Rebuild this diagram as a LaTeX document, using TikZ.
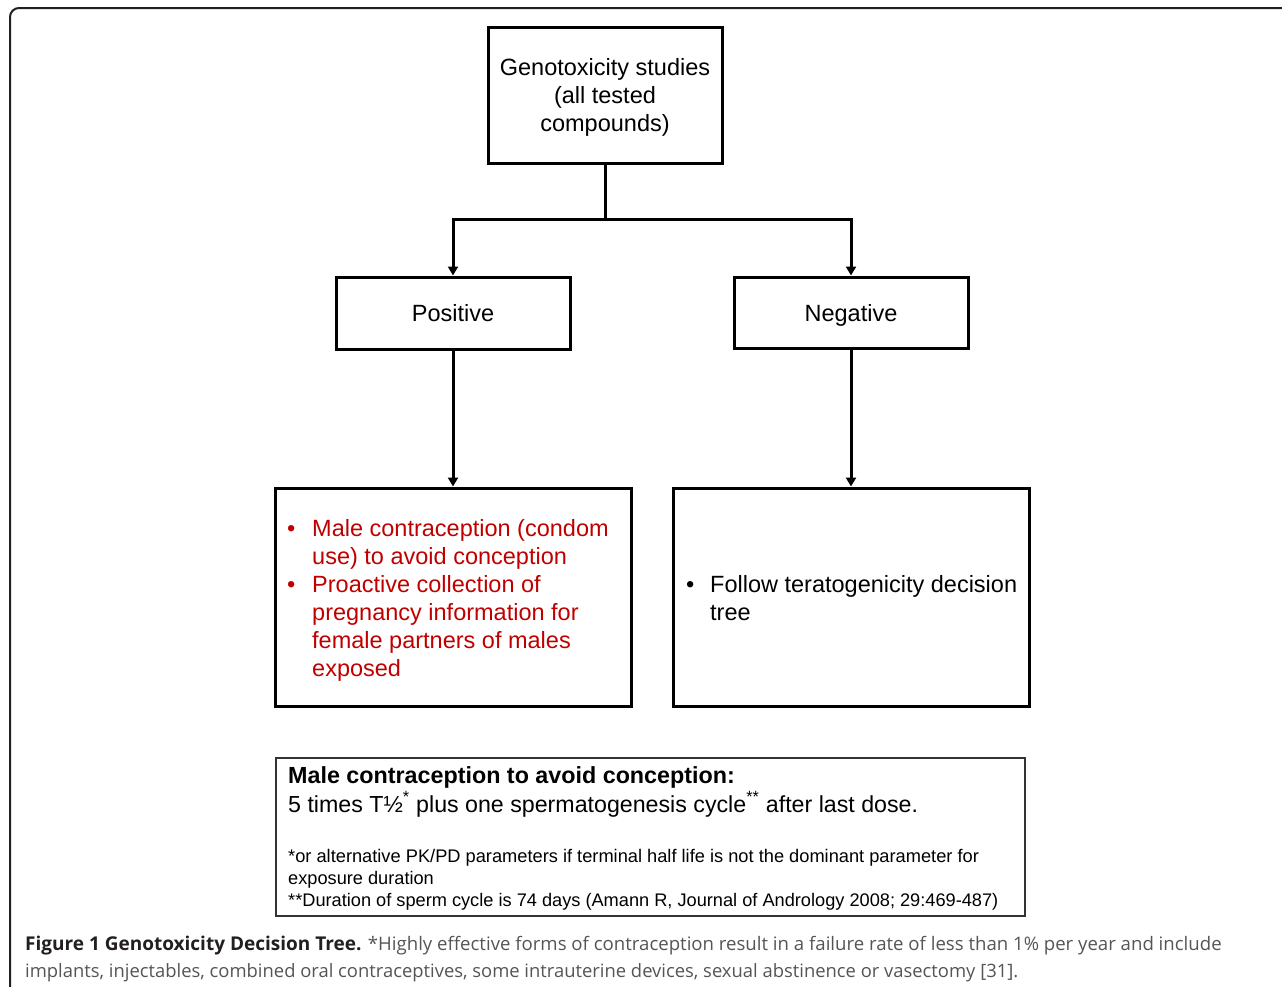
\documentclass[tikz,border=0pt]{standalone}
\usepackage{fontspec}
\setmainfont{Liberation Sans}
\newfontfamily\capfont{Open Sans}
\usetikzlibrary{arrows.meta}
\definecolor{redtxt}{RGB}{192,0,0}
\definecolor{captxt}{RGB}{85,85,85}
\definecolor{capbold}{RGB}{35,31,32}
\definecolor{framec}{RGB}{35,31,32}
\begin{document}
\begin{tikzpicture}[x=1pt,y=-1pt,
  box/.style={draw=black,line width=3pt,rectangle,inner sep=0pt,
    font=\fontsize{23.5}{28}\selectfont},
  btext/.style={anchor=west,inner sep=0pt,font=\fontsize{23.5}{28}\selectfont},
  arr/.style={line width=3pt,-{Triangle[length=9pt,width=10pt]}},
  conn/.style={line width=3pt},
  note/.style={anchor=base west,inner sep=0pt}]
\clip (0,0) rectangle (1282,986);
\fill[white] (0,0) rectangle (1282,986);
% outer frame
\draw[framec,line width=2pt,rounded corners=9pt] (10,1010) -- (10,8) -- (1310,8);
% nodes
\node[box,minimum width=234pt,minimum height=136pt,align=center,text depth=0pt] (top) at (605,95)
  {Genotoxicity studies\\(all tested\\compounds)};
\node[box,minimum width=234pt,minimum height=72pt] (pos) at (453,313) {Positive};
\node[box,minimum width=234pt,minimum height=71pt,text depth=0pt] (neg) at (851,312.5) {Negative};
\node[box,minimum width=356pt,minimum height=218pt] (red) at (453,597) {};
\node[box,minimum width=356pt,minimum height=218pt] (fol) at (851,597) {};
\node[btext,text=redtxt] (redt) at (287,600.5)
  {\begin{tabular}{@{}p{25pt}@{}l@{}}
   \textbullet & Male contraception (condom\\
               & use) to avoid conception\\
   \textbullet & Proactive collection of\\
               & pregnancy information for\\
               & female partners of males\\
               & exposed
   \end{tabular}};
\node[btext] (folt) at (686,600.5)
  {\begin{tabular}{@{}p{24pt}@{}l@{}}
   \textbullet & Follow teratogenicity decision\\
               & tree
   \end{tabular}};
% connectors
\coordinate (j) at (605,219);
\draw[conn] (top.south) -- (j);
\draw[arr] (j) -| (pos.north);
\draw[arr] (j) -| (neg.north);
\draw[arr] (pos.south) -- (red.north);
\draw[arr] (neg.south) -- (fol.north);
% bottom box
\node[draw=black!80,line width=1.3pt,minimum width=749pt,minimum height=158pt,inner sep=0pt] (bot) at (650.5,837) {};
\node[note,font=\bfseries\fontsize{23.3}{26}\selectfont] (b1) at (288,783) {Male contraception to avoid conception:};
\node[note,font=\fontsize{23.2}{26}\selectfont] (b2) at (288,812) {5 times T½\textsuperscript{*} plus one spermatogenesis cycle\textsuperscript{**} after last dose.};
\node[note,font=\fontsize{18.25}{20}\selectfont] (b3) at (288,862) {*or alternative PK/PD parameters if terminal half life is not the dominant parameter for};
\node[note,font=\fontsize{18.2}{20}\selectfont] (b4) at (288,884) {exposure duration};
\node[note,font=\fontsize{18.2}{20}\selectfont] (b5) at (288,906) {**Duration of sperm cycle is 74 days (Amann R, Journal of Andrology 2008; 29:469-487)};
% caption
\node[note,font=\capfont\fontsize{18.6}{27}\selectfont,text=captxt] (c1) at (25,950)
  {\textcolor{capbold}{\fontsize{19}{27}\selectfont\bfseries Figure 1 Genotoxicity Decision Tree.} *Highly effective forms of contraception result in a failure rate of less than 1\% per year and include};
\node[note,font=\capfont\fontsize{18.4}{27}\selectfont,text=captxt] (c2) at (25,977)
  {implants, injectables, combined oral contraceptives, some intrauterine devices, sexual abstinence or vasectomy [31].};
\end{tikzpicture}
\end{document}
